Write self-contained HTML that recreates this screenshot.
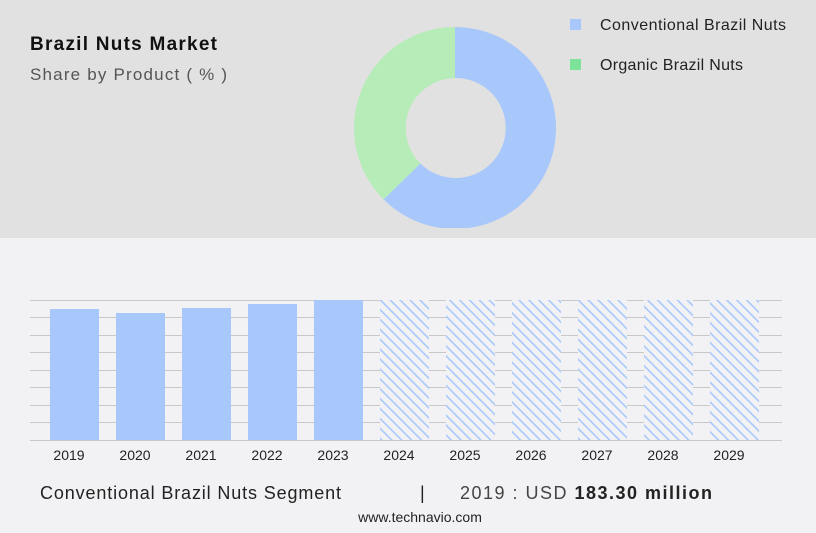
<!DOCTYPE html>
<html><head><style>
body{margin:0;width:816px;height:528px;overflow:hidden;background:#f2f2f4;font-family:"Liberation Sans",sans-serif;}
</style></head><body>
<svg width="816" height="528" xmlns="http://www.w3.org/2000/svg">
<defs>
<pattern id="h" patternUnits="userSpaceOnUse" width="7" height="7" patternTransform="rotate(-45)">
<rect width="7" height="7" fill="#f2f2f4"/>
<rect x="0" y="0" width="1.6" height="7" fill="#a8c8fb"/>
</pattern>
</defs>
<rect x="0" y="0" width="816" height="238" fill="#e1e1e1"/>
<text x="30" y="50" font-size="19" font-weight="bold" fill="#111" textLength="187">Brazil Nuts Market</text>
<text x="30" y="80" font-size="17" fill="#555" textLength="197">Share by Product ( % )</text>
<path d="M455,27 A101,101 0 1,1 383.6,199.4 L420.4,163.4 A50,50 0 1,0 455,78 Z" fill="#a8c8fb"/>
<path d="M383.6,199.4 A101,101 0 0,1 455,27 L455,78 A50,50 0 0,0 420.4,163.4 Z" fill="#b6ecb8"/>
<rect x="340" y="228" width="240" height="10" fill="#e1e1e1"/>
<rect x="570" y="19" width="11" height="11" fill="#a8c8fb"/>
<text x="600" y="30" font-size="16" fill="#222" textLength="186">Conventional Brazil Nuts</text>
<rect x="570" y="59" width="11" height="11" fill="#7de39a"/>
<text x="600" y="70" font-size="16" fill="#222" textLength="143">Organic Brazil Nuts</text>
<g stroke="#c8c8c8" stroke-width="1">
<line x1="30" x2="782" y1="300.5" y2="300.5"/><line x1="30" x2="782" y1="317.5" y2="317.5"/>
<line x1="30" x2="782" y1="335.5" y2="335.5"/><line x1="30" x2="782" y1="352.5" y2="352.5"/>
<line x1="30" x2="782" y1="370.5" y2="370.5"/><line x1="30" x2="782" y1="387.5" y2="387.5"/>
<line x1="30" x2="782" y1="405.5" y2="405.5"/><line x1="30" x2="782" y1="422.5" y2="422.5"/>
<line x1="30" x2="782" y1="440.5" y2="440.5"/>
</g>
<g fill="#a8c8fb">
<rect x="50" y="309" width="49" height="131"/>
<rect x="116" y="313" width="49" height="127"/>
<rect x="182" y="308" width="49" height="132"/>
<rect x="248" y="304" width="49" height="136"/>
<rect x="314" y="300" width="49" height="140"/>
</g>
<g fill="url(#h)">
<rect x="380" y="300" width="49" height="140"/><rect x="446" y="300" width="49" height="140"/>
<rect x="512" y="300" width="49" height="140"/><rect x="578" y="300" width="49" height="140"/>
<rect x="644" y="300" width="49" height="140"/><rect x="710" y="300" width="49" height="140"/>
</g>
<g font-size="14" fill="#222" text-anchor="middle">
<text x="69" y="460">2019</text><text x="135" y="460">2020</text><text x="201" y="460">2021</text>
<text x="267" y="460">2022</text><text x="333" y="460">2023</text><text x="399" y="460">2024</text>
<text x="465" y="460">2025</text><text x="531" y="460">2026</text><text x="597" y="460">2027</text>
<text x="663" y="460">2028</text><text x="729" y="460">2029</text>
</g>
<text x="40" y="499" font-size="18" fill="#222" textLength="301">Conventional Brazil Nuts Segment</text>
<text x="420" y="499" font-size="18" fill="#222">|</text>
<text x="460" y="499" font-size="18" fill="#444" textLength="252">2019 : USD <tspan font-weight="bold" fill="#222">183.30 million</tspan></text>
<text x="420" y="522" font-size="14" fill="#222" text-anchor="middle">www.technavio.com</text>
</svg>
</body></html>
